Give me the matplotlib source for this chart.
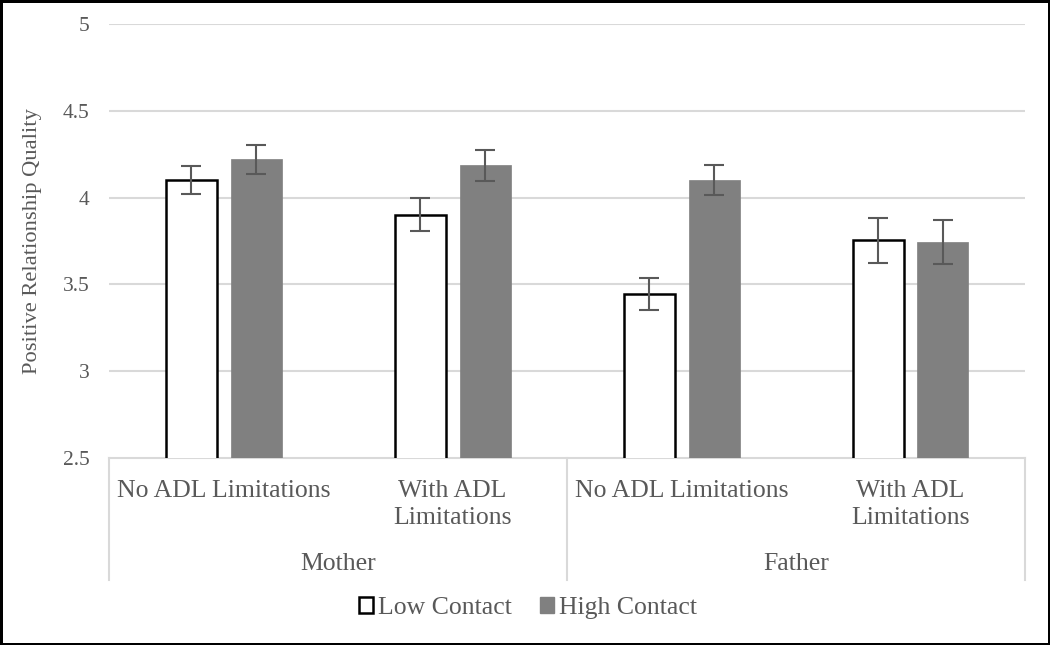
import matplotlib
matplotlib.use("Agg")
import matplotlib.pyplot as plt
from matplotlib.patches import Patch
import numpy as np

groups = ["Mother", "Father"]
subcats = ["No ADL Limitations", "With ADL\nLimitations", "No ADL Limitations", "With ADL\nLimitations"]
series = ["Low Contact", "High Contact"]
low_vals = [4.10, 3.90, 3.445, 3.755]
low_err = [0.08, 0.095, 0.09, 0.13]
high_vals = [4.22, 4.185, 4.10, 3.745]
high_err = [0.085, 0.09, 0.085, 0.125]
yticks = [2.5, 3, 3.5, 4, 4.5, 5]
ytick_labels = ["2.5", "3", "3.5", "4", "4.5", "5"]
ylabel = "Positive Relationship Quality"

plt.rcParams["font.family"] = ["Liberation Serif", "DejaVu Serif"]
txt = "#595959"
grid_c = "#d9d9d9"
cat_fs = 18.5

fig = plt.figure(figsize=(10.5, 6.45), dpi=100)
fig.patch.set_edgecolor("black")
fig.patch.set_linewidth(2.5)
ax = fig.add_axes([109/1050, 1-458/645, (1025-109)/1050, (458-24)/645])

x = np.arange(len(subcats))
off = 32.5/229
w = 51/229
ax.bar(x - off, low_vals, w, color="white", edgecolor="black", linewidth=1.8, zorder=3)
ax.bar(x + off, high_vals, w, color="#808080", edgecolor="#808080", linewidth=0.5, zorder=3)
ax.errorbar(x - off, low_vals, yerr=low_err, fmt="none", ecolor=txt, elinewidth=1.5, capsize=7, capthick=1.5, zorder=4)
ax.errorbar(x + off, high_vals, yerr=high_err, fmt="none", ecolor=txt, elinewidth=1.5, capsize=7, capthick=1.5, zorder=4)

ax.set_ylim(2.5, 5)
ax.set_xlim(-0.5, len(subcats) - 0.5)
ax.set_yticks(yticks)
ax.set_yticklabels(ytick_labels)
ax.set_xticks([])
ax.tick_params(axis="y", length=0, pad=14, labelsize=15.5, labelcolor=txt)
for s in ax.spines.values():
    s.set_visible(False)
for t in yticks[1:]:
    ax.axhline(t, color=grid_c, linewidth=1.5, zorder=1)
ax.axhline(2.5, color=grid_c, linewidth=1.5, zorder=1, clip_on=False)

fig.text(33/1050, 1-241/645, ylabel, rotation=90, ha="center", va="center",
         fontsize=16.2, color=txt)

# multi-level category axis
tr = ax.get_xaxis_transform()
depth = -(580-458)/434
for xv in [-0.5, 1.5, 3.5]:
    ax.plot([xv, xv], [0, depth], transform=tr, color=grid_c, linewidth=1.5, clip_on=False)
for i, lab in enumerate(subcats):
    ax.text(i, -(480-458)/434, lab, transform=tr, ha="center", va="top", fontsize=cat_fs,
            color=txt, linespacing=1.32)
for g, lab in enumerate(groups):
    ax.text(2*g + 0.5, -(564-458)/434, lab, transform=tr, ha="center", va="center",
            fontsize=cat_fs, color=txt)

handles = [Patch(facecolor="white", edgecolor="black", linewidth=1.8),
           Patch(facecolor="#808080", edgecolor="#808080")]
leg = fig.legend(handles, series, loc="center", bbox_to_anchor=(528/1050, 1-608/645), ncol=2,
                 frameon=False, fontsize=cat_fs, handlelength=0.55, handleheight=0.55,
                 handletextpad=0.2, columnspacing=1.1)
for t in leg.get_texts():
    t.set_color(txt)

fig.savefig("out.png", dpi=100, edgecolor=fig.get_edgecolor())
